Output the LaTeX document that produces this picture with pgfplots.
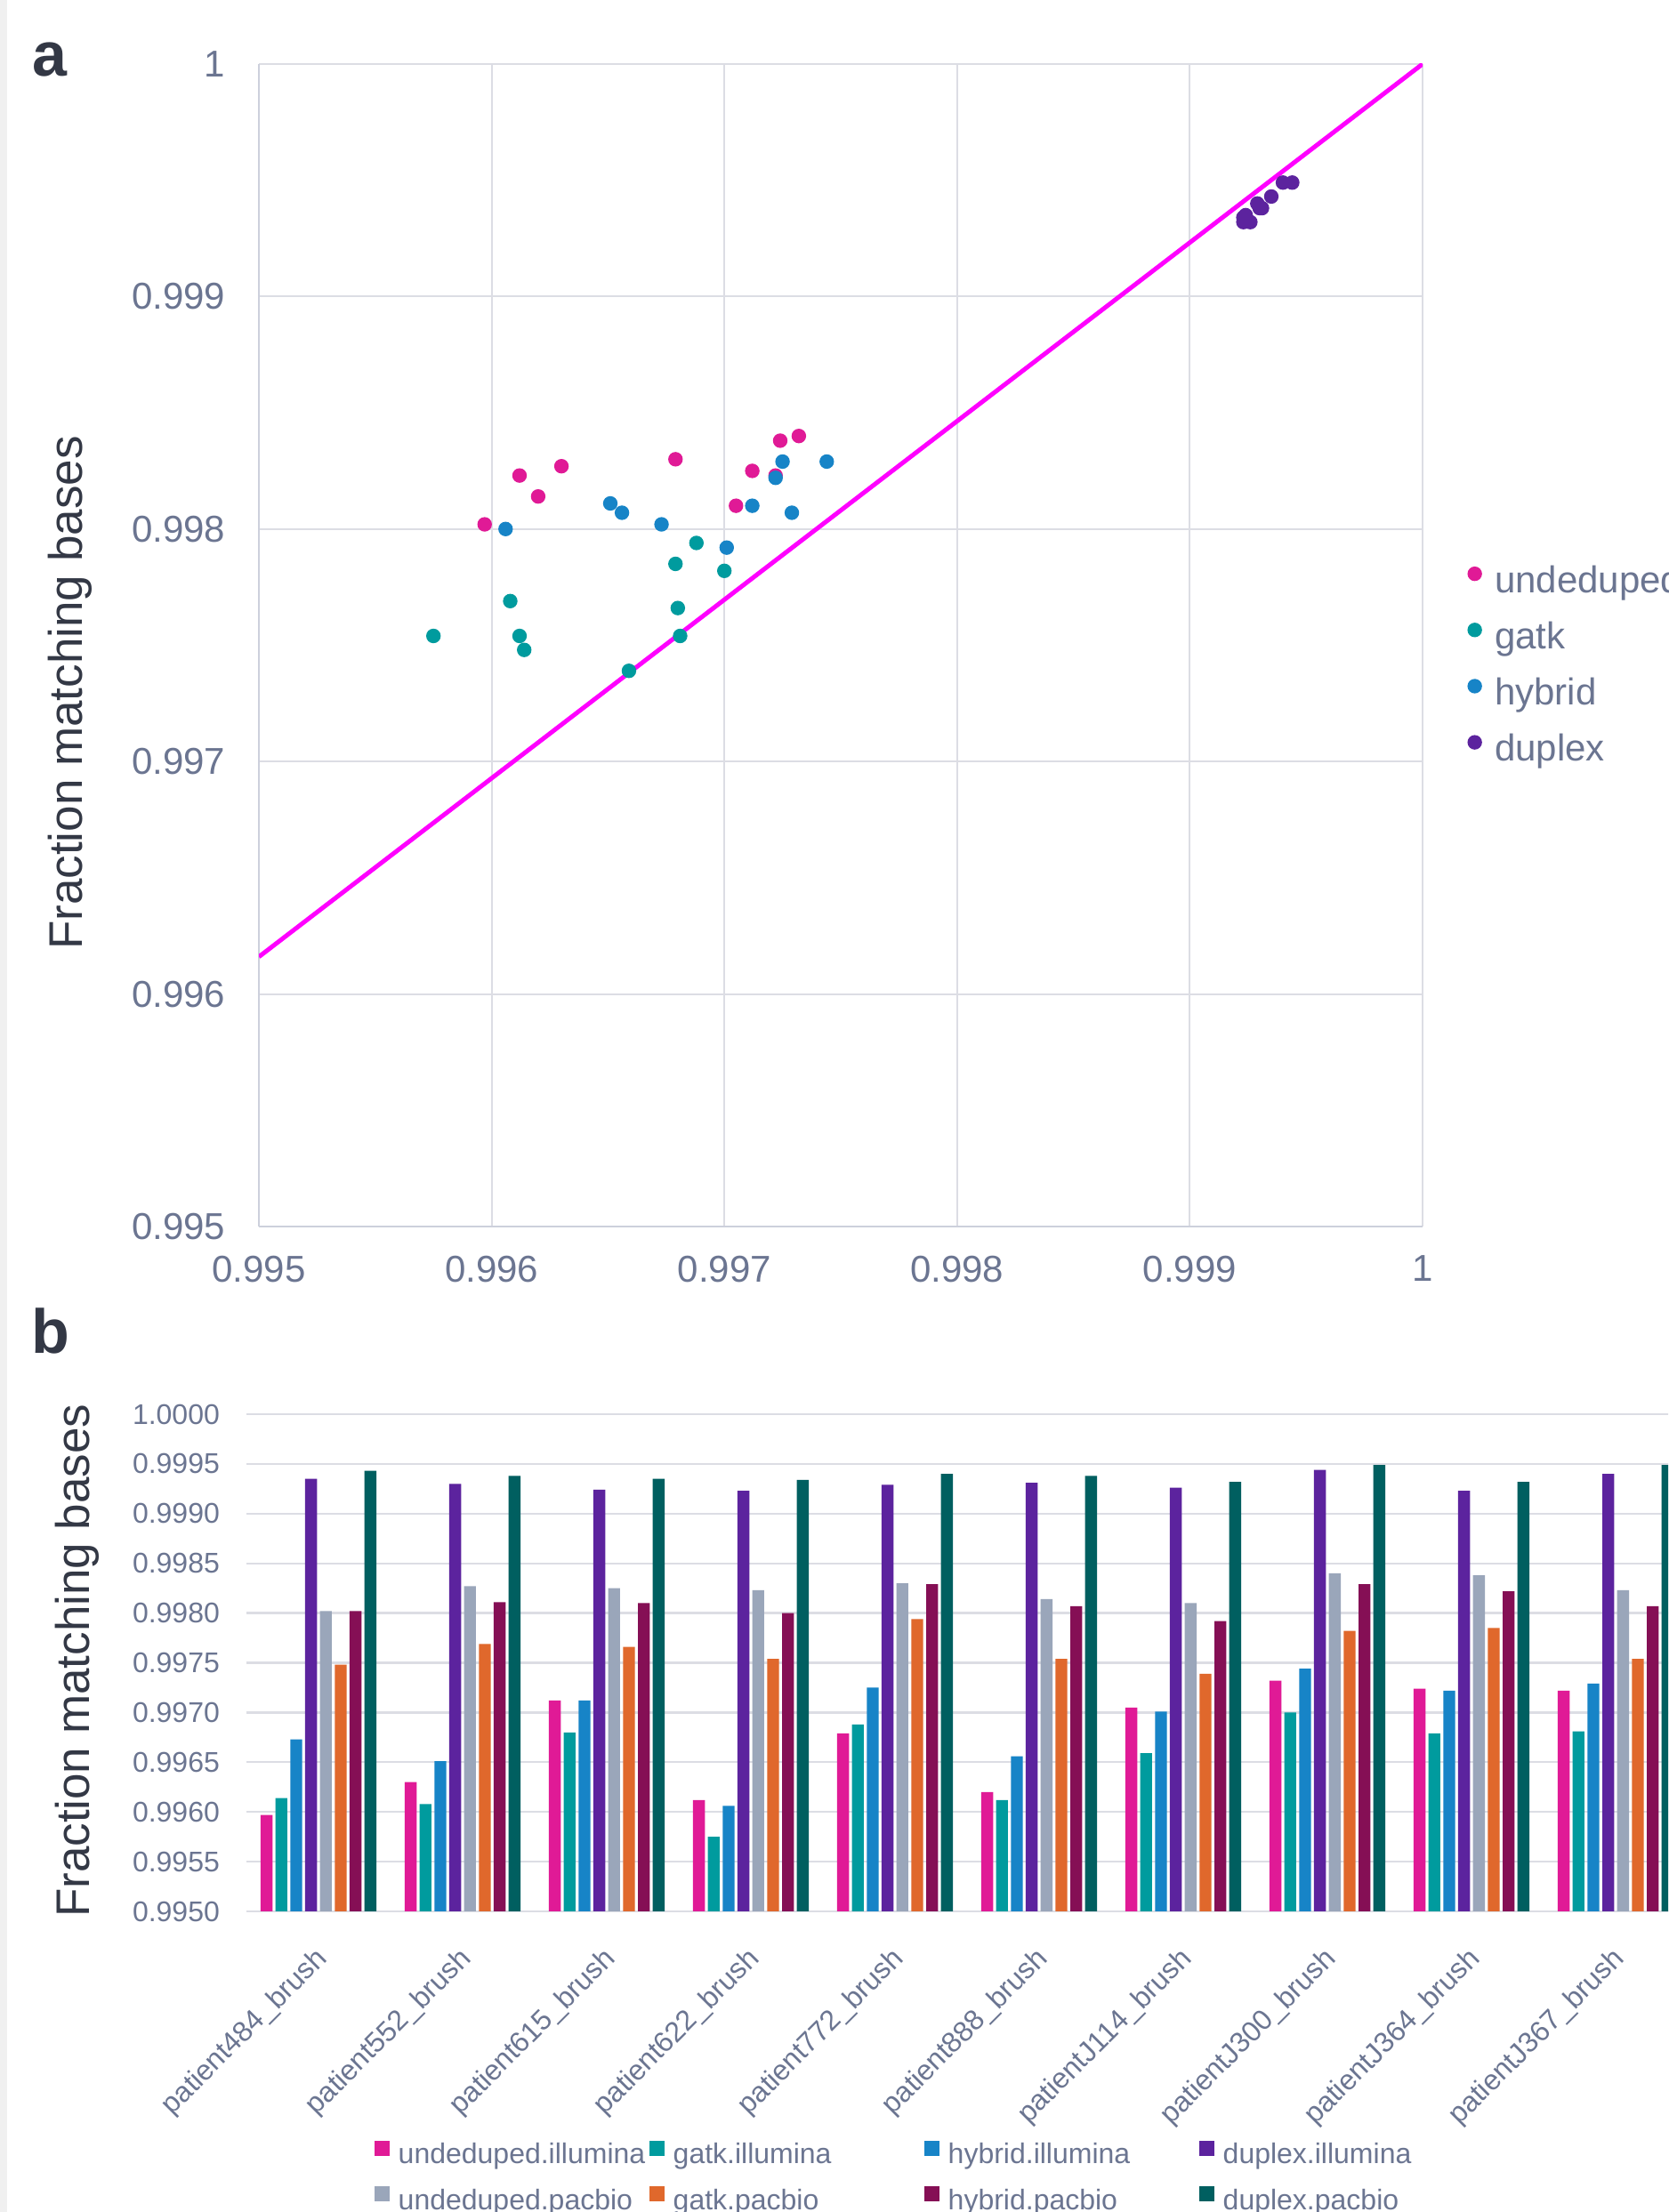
\documentclass[border=0pt]{standalone}
\usepackage{fontspec}
\setmainfont{Liberation Sans}
\usepackage{pgfplots}
\usepackage{pgfplotstable}
\pgfplotsset{compat=1.18}

\definecolor{cUI}{HTML}{E01A96}
\definecolor{cGI}{HTML}{009B9E}
\definecolor{cHI}{HTML}{1784C7}
\definecolor{cDI}{HTML}{5C239E}
\definecolor{cUP}{HTML}{9AA6BA}
\definecolor{cGP}{HTML}{E0682C}
\definecolor{cHP}{HTML}{850F55}
\definecolor{cDP}{HTML}{005F60}
\definecolor{cTick}{HTML}{6B7591}
\definecolor{cLab}{HTML}{333845}
\definecolor{cGrid}{HTML}{DCDDE4}
\definecolor{cAxis}{HTML}{CDD0DC}
\definecolor{cLine}{HTML}{FF00FF}

\newcommand{\fA}{\fontsize{12.6pt}{15pt}\selectfont}
\newcommand{\fB}{\fontsize{9.6pt}{11.5pt}\selectfont}
\newcommand{\fC}{\fontsize{9.6pt}{11.5pt}\selectfont}
\newcommand{\fL}{\fontsize{15.9pt}{19pt}\selectfont}

% x = illumina, y = pacbio; rows = patients
\pgfplotstableread{
id ui gi hi di up gp hp dp
0 0.99597 0.99614 0.99673 0.99935 0.99802 0.99748 0.99802 0.99943
1 0.99630 0.99608 0.99651 0.99930 0.99827 0.99769 0.99811 0.99938
2 0.99712 0.99680 0.99712 0.99924 0.99825 0.99766 0.99810 0.99935
3 0.99612 0.99575 0.99606 0.99923 0.99823 0.99754 0.99800 0.99934
4 0.99679 0.99688 0.99725 0.99929 0.99830 0.99794 0.99829 0.99940
5 0.99620 0.99612 0.99656 0.99931 0.99814 0.99754 0.99807 0.99938
6 0.99705 0.99659 0.99701 0.99926 0.99810 0.99739 0.99792 0.99932
7 0.99732 0.99700 0.99744 0.99944 0.99840 0.99782 0.99829 0.99949
8 0.99724 0.99679 0.99722 0.99923 0.99838 0.99785 0.99822 0.99932
9 0.99722 0.99681 0.99729 0.99940 0.99823 0.99754 0.99807 0.99949
}\data

\begin{document}
\begin{tikzpicture}
\useasboundingbox (0,0) rectangle (562.5pt,746.1pt);
\clip (0,0) rectangle (562.5pt,746.1pt);
\fill[white] (0,0) rectangle (562.5pt,746.1pt);
\fill[black!6] (0,0) rectangle (2.4pt,746.1pt);
\node[font=\fontsize{21pt}{25pt}\selectfont\bfseries, text=cLab] at (16.65pt,726.1pt) {a};
\node[font=\fontsize{21pt}{25pt}\selectfont\bfseries, text=cLab] at (17.1pt,297.3pt) {b};

% ---------------- panel a ----------------
\begin{axis}[
  at={(87.3pt,332.4pt)}, anchor=south west,
  scale only axis, width=392.4pt, height=392.1pt,
  xmin=0.995, xmax=1, ymin=0.995, ymax=1,
  xtick={0.995,0.996,0.997,0.998,0.999,1},
  ytick={0.995,0.996,0.997,0.998,0.999,1},
  xticklabels={0.995,0.996,0.997,0.998,0.999,1},
  yticklabels={0.995,0.996,0.997,0.998,0.999,1},
  grid=major, major grid style={cGrid, line width=0.6pt},
  axis x line*=bottom, axis y line*=left,
  x axis line style={cAxis, line width=0.6pt, -},
  y axis line style={cAxis, line width=0.6pt, -},
  major tick length=0pt,
  tick label style={font=\fA, text=cTick},
  xticklabel style={yshift=-6.3pt},
  yticklabel style={xshift=-7.8pt},
  ylabel={Fraction matching bases},
  every axis y label/.style={at={(axis description cs:-0.162,0.459)}, rotate=90, anchor=center, font=\fL, text=cLab},
  legend style={at={(axis description cs:1.0386,0.4805)}, anchor=west, draw=none, fill=none,
    font=\fA, text=cTick, inner sep=0pt, row sep=7.8pt, column sep=4.5pt,
    nodes={inner sep=0pt, text height=0.75em, text depth=0.25em}},
  legend cell align=left,
  legend image code/.code={\draw[#1] plot coordinates {(2.25pt,3.9pt)};},
]
\addplot[cLine, line width=1.5pt, forget plot] coordinates {(0.995,0.99616) (1,1)};
\addplot[only marks, mark=*, mark size=2.25pt, color=cUI] table[x=ui, y=up] {\data};
\addlegendentry{undeduped}
\addplot[only marks, mark=*, mark size=2.25pt, color=cGI] table[x=gi, y=gp] {\data};
\addlegendentry{gatk}
\addplot[only marks, mark=*, mark size=2.25pt, color=cHI] table[x=hi, y=hp] {\data};
\addlegendentry{hybrid}
\addplot[only marks, mark=*, mark size=2.25pt, color=cDI] table[x=di, y=dp] {\data};
\addlegendentry{duplex}
\end{axis}

% ---------------- panel b ----------------
\begin{axis}[
  at={(83.1pt,101.4pt)}, anchor=south west,
  scale only axis, width=486pt, height=167.7pt,
  xmin=-0.5, xmax=9.5, ymin=0, ymax=50,
  ybar=1pt, bar width=4pt,
  xtick={0,1,2,3,4,5,6,7,8,9},
  xticklabels={patient484\_brush,patient552\_brush,patient615\_brush,patient622\_brush,patient772\_brush,patient888\_brush,patientJ114\_brush,patientJ300\_brush,patientJ364\_brush,patientJ367\_brush},
  ytick={0,5,10,15,20,25,30,35,40,45,50},
  yticklabels={0.9950,0.9955,0.9960,0.9965,0.9970,0.9975,0.9980,0.9985,0.9990,0.9995,1.0000},
  ymajorgrids, major grid style={cGrid, line width=0.7pt},
  axis x line*=bottom, axis y line*=left,
  x axis line style={cGrid, line width=0.8pt, -},
  y axis line style={draw=none},
  major tick length=0pt,
  yticklabel style={font=\fB, text=cTick, xshift=-5.5pt},
  xticklabel style={font=\fC, text=cTick, rotate=45, anchor=north east, xshift=-5.8pt, yshift=-3.4pt},
  ylabel={Fraction matching bases},
  every axis y label/.style={at={(axis description cs:-0.1173,0.504)}, rotate=90, anchor=center, font=\fL, text=cLab},
  legend columns=4,
  legend style={at={(axis description cs:0.0883,-0.4597)}, anchor=north west, draw=none, fill=none,
    font=\fB, text=cTick, inner sep=0pt, row sep=5.1pt, column sep=3pt,
    nodes={inner sep=0pt, text height=0.75em, text depth=0.25em}},
  legend image code/.code={\fill[#1, draw=none] (0pt,0.3pt) rectangle (5.1pt,5.4pt);},
]
\addplot[fill=cUI, draw=none] table[x=id, y expr={(\thisrow{ui}-0.995)*10000}] {\data};
\addlegendentry{\makebox[81.6pt][l]{undeduped.illumina}}
\addplot[fill=cGI, draw=none] table[x=id, y expr={(\thisrow{gi}-0.995)*10000}] {\data};
\addlegendentry{\makebox[81.6pt][l]{gatk.illumina}}
\addplot[fill=cHI, draw=none] table[x=id, y expr={(\thisrow{hi}-0.995)*10000}] {\data};
\addlegendentry{\makebox[81.6pt][l]{hybrid.illumina}}
\addplot[fill=cDI, draw=none] table[x=id, y expr={(\thisrow{di}-0.995)*10000}] {\data};
\addlegendentry{\makebox[81.6pt][l]{duplex.illumina}}
\addplot[fill=cUP, draw=none] table[x=id, y expr={(\thisrow{up}-0.995)*10000}] {\data};
\addlegendentry{\makebox[81.6pt][l]{undeduped.pacbio}}
\addplot[fill=cGP, draw=none] table[x=id, y expr={(\thisrow{gp}-0.995)*10000}] {\data};
\addlegendentry{\makebox[81.6pt][l]{gatk.pacbio}}
\addplot[fill=cHP, draw=none] table[x=id, y expr={(\thisrow{hp}-0.995)*10000}] {\data};
\addlegendentry{\makebox[81.6pt][l]{hybrid.pacbio}}
\addplot[fill=cDP, draw=none] table[x=id, y expr={(\thisrow{dp}-0.995)*10000}] {\data};
\addlegendentry{\makebox[81.6pt][l]{duplex.pacbio}}
\end{axis}
\end{tikzpicture}
\end{document}
